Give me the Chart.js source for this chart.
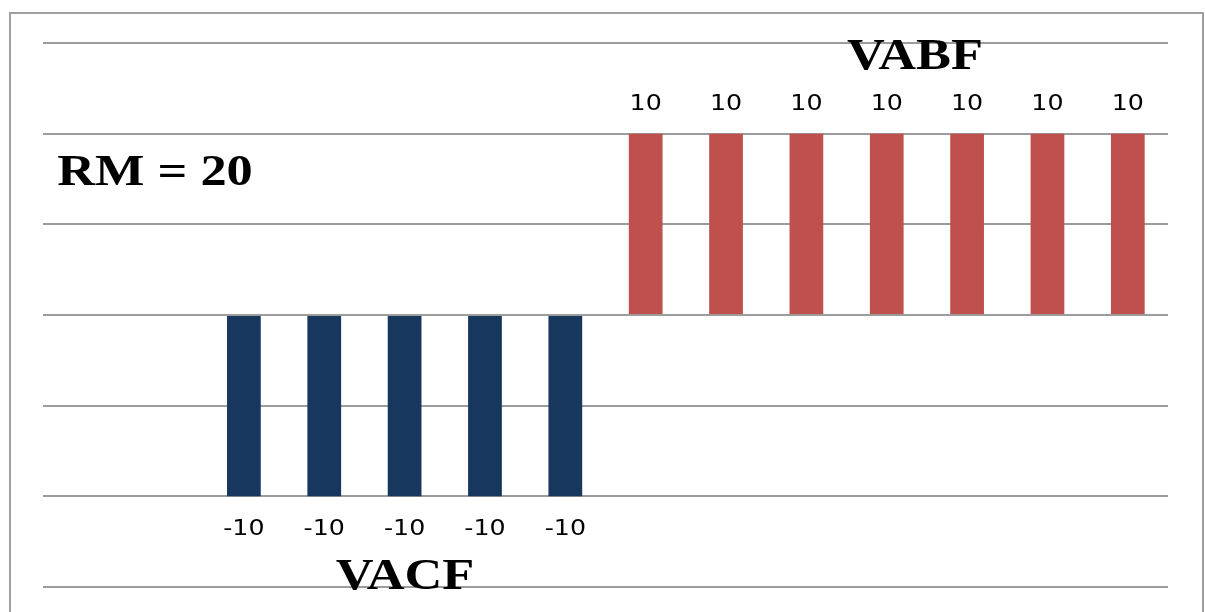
<!DOCTYPE html>
<html>
<head>
<meta charset="utf-8">
<script src="https://cdn.jsdelivr.net/npm/chart.js@4.4.1/dist/chart.umd.min.js"></script>
<style>
  html, body { margin: 0; padding: 0; background: #fff; }
  #wrap { width: 1205px; height: 612px; }
</style>
</head>
<body>
<div id="wrap"><canvas id="bars" width="1205" height="612"></canvas></div>
<script>
var categories = ["1", "2", "3", "4", "5", "6", "7", "8", "9", "10", "11", "12", "13", "14"];
var vacf = [null, null, -10, -10, -10, -10, -10, null, null, null, null, null, null, null];
var vabf = [null, null, null, null, null, null, null, 10, 10, 10, 10, 10, 10, 10];
var yTicks = [-15, -10, -5, 0, 5, 10, 15];
var notes = [
  { text: "VABF", x: 915, y: 58 },
  { text: "RM = 20", x: 155, y: 174 },
  { text: "VACF", x: 405, y: 578 }
];

// stretched text, like the original picture
function wideText(ctx, text, x, y, font, sx) {
  ctx.save();
  ctx.translate(x, y);
  ctx.scale(sx, 1);
  ctx.font = font;
  ctx.textAlign = "center";
  ctx.textBaseline = "middle";
  ctx.fillStyle = "#000";
  ctx.fillText(text, 0, 0);
  ctx.restore();
}

var extras = {
  id: "extras",
  beforeDraw: function(chart) {
    var ctx = chart.ctx;
    ctx.save();
    ctx.strokeStyle = "#a0a0a0";
    ctx.lineWidth = 2;
    ctx.strokeRect(10, 13, 1193, 640);
    ctx.restore();
  },
  afterDatasetsDraw: function(chart) {
    var ctx = chart.ctx;
    chart.data.datasets.forEach(function(ds, i) {
      var meta = chart.getDatasetMeta(i);
      meta.data.forEach(function(bar, j) {
        var v = ds.data[j];
        if (v === null) return;
        var y = v >= 0 ? bar.y - 29 : bar.y + 33;
        wideText(ctx, String(v), bar.x, y, "22px 'DejaVu Sans'", 1.15);
      });
    });
    notes.forEach(function(n) {
      wideText(ctx, n.text, n.x, n.y, "bold 44px 'Liberation Serif'", 1.19);
    });
  }
};

new Chart(document.getElementById("bars").getContext("2d"), {
  type: "bar",
  data: {
    labels: categories,
    datasets: [
      { label: "VACF", data: vacf, backgroundColor: "#17375e" },
      { label: "VABF", data: vabf, backgroundColor: "#c0504d" }
    ]
  },
  options: {
    responsive: false,
    animation: false,
    layout: { padding: { left: 43, right: 37, top: 43, bottom: 25 } },
    datasets: { bar: { barPercentage: 0.42, categoryPercentage: 1 } },
    plugins: { legend: { display: false }, tooltip: { enabled: false } },
    scales: {
      x: {
        display: false,
        stacked: true
      },
      y: {
        stacked: true,
        min: -15,
        max: 15,
        afterBuildTicks: function(axis) {
          axis.ticks = yTicks.map(function(v) { return { value: v }; });
        },
        grid: { color: "#9c9c9c", lineWidth: 2, drawTicks: false },
        border: { display: false },
        ticks: { display: false }
      }
    }
  },
  plugins: [extras]
});
</script>
</body>
</html>
